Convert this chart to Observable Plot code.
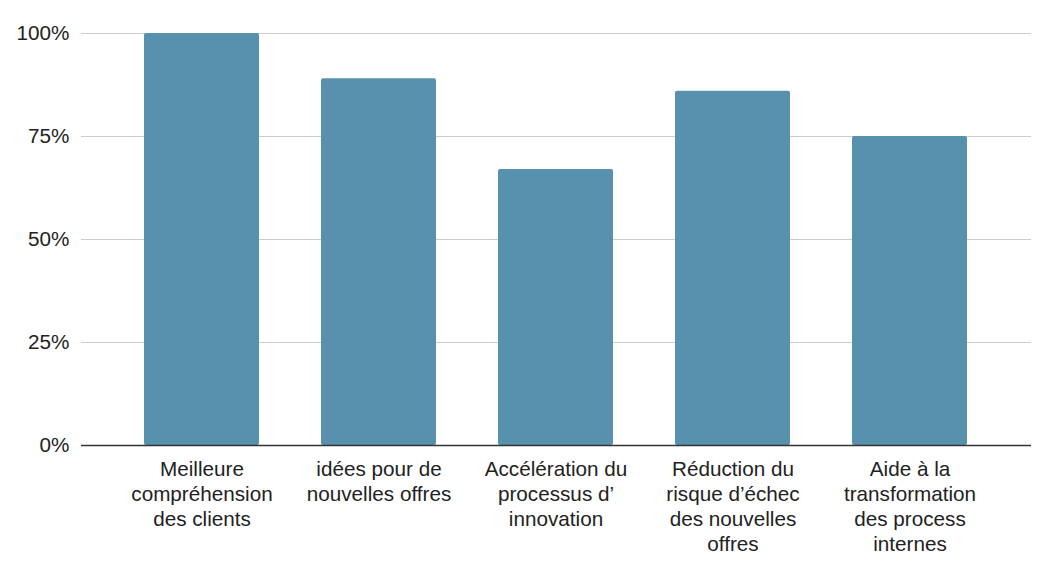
<!DOCTYPE html>
<html>
<head>
<meta charset="utf-8">
<script src="https://cdn.jsdelivr.net/npm/d3@7"></script>
<script src="https://cdn.jsdelivr.net/npm/@observablehq/plot@0.6"></script>
<style>
  html, body { margin: 0; padding: 0; background: #fff; }
</style>
</head>
<body>
<div id="chart"></div>
<script>
const categories = [
  "Meilleure\ncompréhension\ndes clients",
  "idées pour de\nnouvelles offres",
  "Accélération du\nprocessus d’\ninnovation",
  "Réduction du\nrisque d’échec\ndes nouvelles\noffres",
  "Aide à la\ntransformation\ndes process\ninternes"
];
const values = [1.00, 0.89, 0.67, 0.86, 0.75];
const yTicks = [0, 0.25, 0.5, 0.75, 1];

const data = categories.map((c, i) => ({category: c, value: values[i]}));

const chart = Plot.plot({
  width: 1051,
  height: 567,
  marginTop: 33,
  marginBottom: 122,
  marginLeft: 81,
  marginRight: 20,
  style: {fontFamily: "'Liberation Sans', Arial, sans-serif", fontSize: "20.7px", color: "#222", background: "#fff"},
  x: {domain: categories, paddingInner: 0.352, paddingOuter: 0.176, insetLeft: 30, insetRight: 31, label: null},
  y: {domain: [0, 1], label: null},
  marks: [
    Plot.ruleY(yTicks.slice(1), {stroke: "#cccccc", strokeWidth: 1}),
    Plot.barY(data, {x: "category", y: "value", fill: "#5891ae", rx: 2}),
    Plot.ruleY([0], {stroke: "#333333", strokeWidth: 1.5}),
    Plot.axisY({ticks: yTicks, tickFormat: d3.format(".0%"), tickSize: 0, tickPadding: 12, label: null, fontSize: 20.7, fill: "#222"}),
    Plot.axisX({tickSize: 0, tickPadding: 13, label: null, lineHeight: 1.21, fontSize: 20.7, fill: "#222"})
  ]
});
document.getElementById("chart").appendChild(chart);
</script>
</body>
</html>
